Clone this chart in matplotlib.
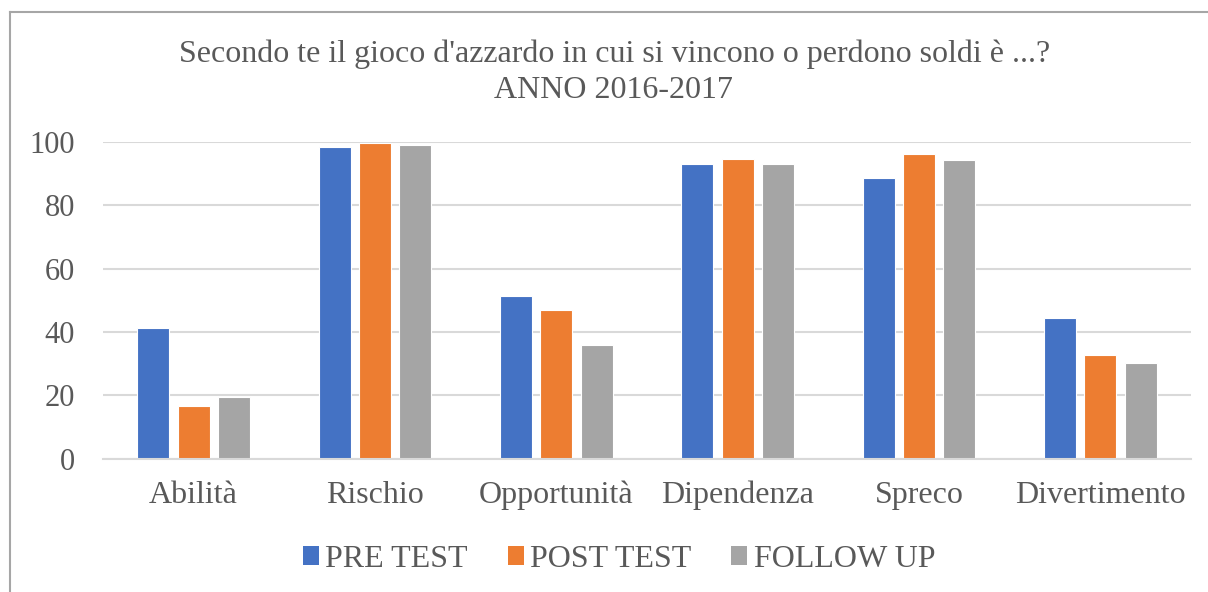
import matplotlib
matplotlib.use('Agg')
import matplotlib.pyplot as plt
from matplotlib.lines import Line2D
from matplotlib.patches import Patch
import numpy as np

categories = ['Abilità', 'Rischio', 'Opportunità', 'Dipendenza', 'Spreco', 'Divertimento']
series_names = ['PRE TEST', 'POST TEST', 'FOLLOW UP']
pre_test = [41.2, 98.3, 51.4, 93.1, 88.6, 44.5]
post_test = [16.5, 99.6, 46.9, 94.6, 96.3, 32.7]
follow_up = [19.5, 99.1, 36.0, 93.1, 94.3, 30.3]
y_ticks = [0, 20, 40, 60, 80, 100]

colors = ['#4472C4', '#ED7D31', '#A5A5A5']
text_col = '#595959'
grid_col = '#D9D9D9'

plt.rcParams['font.family'] = ['Liberation Serif', 'DejaVu Serif']

fig = plt.figure(figsize=(12.08, 5.92), dpi=100)
ax = fig.add_axes([103 / 1208, 133.5 / 592, 1088 / 1208, 316.5 / 592])

x = np.arange(len(categories))
width = 0.176
step = 0.223
for i, (vals, col, name) in enumerate(zip([pre_test, post_test, follow_up], colors, series_names)):
    ax.bar(x + (i - 1) * step, vals, width, color=col, edgecolor='white',
           linewidth=0.8, label=name, zorder=2)

ax.set_ylim(0, 100)
ax.set_xlim(-0.5, 5.5)
ax.set_yticks(y_ticks)
ax.set_xticks(x)
ax.set_xticklabels(categories)
ax.tick_params(axis='both', length=0, colors=text_col, labelsize=23)
ax.tick_params(axis='y', pad=20, labelsize=22)
ax.tick_params(axis='x', pad=16)
ax.grid(True, axis='y', color=grid_col, linewidth=1.5, zorder=0)
for s in ['top', 'right', 'left']:
    ax.spines[s].set_visible(False)
ax.spines['bottom'].set_color(grid_col)
ax.spines['bottom'].set_linewidth(1.5)

fig.text(0.509, 0.8958, "Secondo te il gioco d'azzardo in cui si vincono o perdono soldi è ...?",
         ha='center', va='baseline', fontsize=23, color=text_col)
fig.text(0.508, 0.8345, 'ANNO 2016-2017', ha='center', va='baseline', fontsize=23, color=text_col)

handles = [Patch(facecolor=c, edgecolor='none') for c in colors]
fig.legend(handles, series_names, loc='center', bbox_to_anchor=(0.5124, 0.055), ncol=3,
           frameon=False, fontsize=23, labelcolor=text_col, handlelength=0.5,
           handleheight=0.5, handletextpad=0.2, columnspacing=1.25)

# chart border (left and top edges visible)
fig.add_artist(Line2D([10 / 1208, 10 / 1208], [0, 1 - 12 / 592], transform=fig.transFigure,
                      color='#A6A6A6', linewidth=1.5))
fig.add_artist(Line2D([10 / 1208, 1], [1 - 12 / 592, 1 - 12 / 592], transform=fig.transFigure,
                      color='#A6A6A6', linewidth=1.5))

fig.savefig('out.png', dpi=100)
